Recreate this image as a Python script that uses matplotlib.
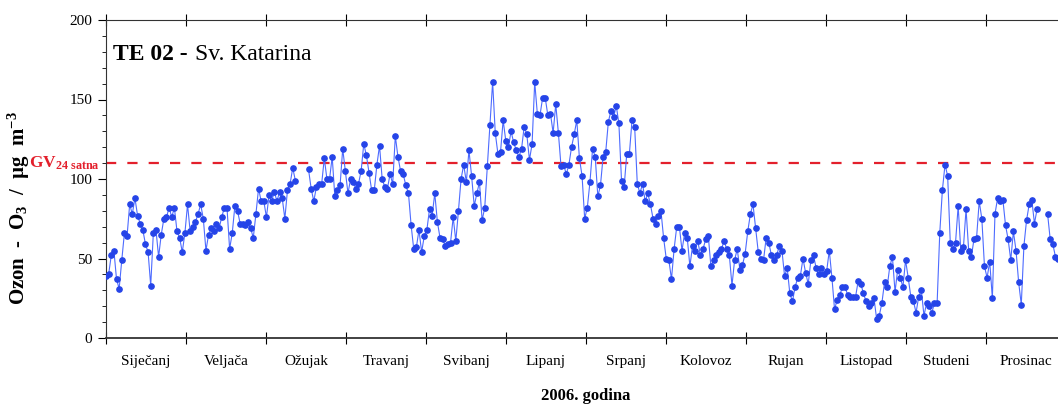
import numpy as np
import matplotlib
matplotlib.use("Agg")
import matplotlib.pyplot as plt
import matplotlib.transforms as mtransforms

plt.rcParams['font.family'] = ['Liberation Serif', 'DejaVu Serif']
plt.rcParams['mathtext.fontset'] = 'custom'
plt.rcParams['mathtext.rm'] = 'Liberation Serif'
plt.rcParams['mathtext.bf'] = 'Liberation Serif:bold'
plt.rcParams['mathtext.it'] = 'Liberation Serif:italic'

nan = np.nan

# daily ozone, 2006 (ug/m3)
jan = [39, 40, 52, 55, 37, 31, 49, 66, 64, 84, 78, 88, 77, 72, 68, 59, 54, 33, 66, 68,
       51, 65, 75, 76, 82, 76, 82, 67, 63, 54, 66]
feb = [84, 67, 70, 73, 78, 84, 75, 55, 65, 69, 67, 72, 69, 76, 82, 82, 56, 66, 83, 80,
       72, 72, 71, 73, 69, 63, 78, 94]
mar = [86, 86, 76, 90, 86, 92, 86, 92, 88, 75, 93, 97, 107, 99, nan, nan, nan, nan, 106, 94,
       86, 95, 97, 97, 113, 100, 100, 114, 89, 93, 96]
apr = [119, 105, 91, 100, 98, 94, 97, 105, 122, 115, 104, 93, 93, 109, 121, 100, 95, 94, 103, 97,
       127, 114, 105, 103, 96, 91, 71, 56, 57, 68]
may = [54, 64, 68, 81, 77, 91, 73, 63, 62, 58, 59, 60, 76, 61, 80, 100, 109, 98, 118, 102,
       83, 91, 98, 74, 82, 108, 134, 161, 129, 116, 117]
jun = [137, 124, 120, 130, 123, 118, 114, 119, 133, 128, 112, 122, 161, 141, 140, 151, 151, 140, 141, 129,
       147, 129, 108, 109, 103, 109, 120, 128, 137, 113]
jul = [102, 75, 82, 98, 119, 114, 89, 96, 114, 117, 136, 143, 139, 146, 135, 99, 95, 116, 116, 137,
       133, 97, 91, 97, 86, 91, 84, 75, 72, 77, 80]
aug = [63, 50, 49, 37, 56, 70, 70, 55, 66, 63, 45, 58, 55, 61, 52, 56, 62, 64, 45, 49,
       52, 54, 56, 61, 56, 52, 33, 49, 56, 43, 46]
sep = [53, 67, 78, 84, 69, 54, 50, 49, 63, 60, 52, 49, 52, 58, 55, 39, 44, 28, 23, 32,
       38, 39, 50, 41, 34, 49, 52, 44, 40, 44]
oct_ = [40, 42, 55, 38, 18, 24, 27, 32, 32, 27, 26, 26, 26, 36, 34, 28, 23, 20, 22, 25,
        12, 14, 22, 35, 32, 45, 51, 29, 43, 38, 32]
nov = [49, 38, 26, 23, 16, 26, 30, 14, 22, 20, 16, 22, 22, 66, 93, 109, 102, 60, 56, 60,
       83, 55, 57, 81, 55, 51, 62, 63, 86, 75]
dec = [45, 38, 48, 25, 78, 88, 86, 87, 71, 62, 49, 67, 55, 35, 21, 58, 74, 84, 87, 72,
       81, nan, nan, nan, 78, 62, 59, 51, 50, 48, 46]

months = ['Siječanj', 'Veljača', 'Ožujak', 'Travanj', 'Svibanj', 'Lipanj',
          'Srpanj', 'Kolovoz', 'Rujan', 'Listopad', 'Studeni', 'Prosinac']
gv_limit = 110

ozone = np.array(jan + feb + mar + apr + may + jun + jul + aug + sep + oct_ + nov + dec, dtype=float)
days = np.arange(len(ozone))

fig = plt.figure(figsize=(10.58, 4.05), dpi=100)
ax = fig.add_axes([106 / 1058, 67 / 405, 960 / 1058, 318 / 405])

ax.plot(days, ozone, color='#4d6bff', lw=0.8, marker='o', ms=3.8,
        mfc='#2544e8', mec='#2544e8', zorder=3)
ax.axhline(gv_limit, color='#e3202c', lw=1.6, dashes=(4.6, 5.0), zorder=2)

ax.set_xlim(0, 365)
ax.set_ylim(0, 200)

step = 365 / 12
ax.set_xticks(np.arange(13) * step)
ax.set_xticklabels([])
ax.set_xticks(np.arange(12) * step + step / 2, minor=True)
ax.set_xticklabels(months, minor=True, fontsize=11)
ax.tick_params(axis='x', which='major', direction='inout', length=8, top=True, width=0.8)
ax.tick_params(axis='x', which='minor', length=0, pad=12)

ax.set_yticks([0, 50, 100, 150, 200])
ax.set_yticks(np.arange(0, 201, 10), minor=True)
ax.tick_params(axis='y', which='major', length=6, labelsize=11, pad=4, width=0.8)
ax.tick_params(axis='y', which='minor', length=3, width=0.6)

for s in ax.spines.values():
    s.set_color('#333333')
ax.spines['bottom'].set_linewidth(1.3)

fig.text(19 / 1058, 1 - 208 / 405, r'Ozon  -  O$_{\mathbf{3}}$  /  µg  m$^{\mathbf{-3}}$',
         fontsize=15, fontweight='bold', rotation=90, ha='center', va='center')
fig.text(586 / 1058, 1 - 396 / 405, '2006. godina', fontsize=12, fontweight='bold',
         ha='center', va='center')

t1 = ax.text(0.0075, 0.874, 'TE 02 -', transform=ax.transAxes, fontsize=17,
             fontweight='bold', ha='left', va='baseline')
ax.annotate('Sv. Katarina', xy=(1, 0), xycoords=t1, xytext=(5, 0), textcoords='offset points',
            fontsize=17, ha='left', va='bottom')

trans = mtransforms.blended_transform_factory(ax.transAxes, ax.transData)
ax.text(-0.006, gv_limit, r'GV$_{\mathbf{24\ satna}}$', transform=trans, color='#e3202c',
        fontsize=12.5, fontweight='bold', ha='right', va='center')

fig.savefig('out.png', dpi=100)
